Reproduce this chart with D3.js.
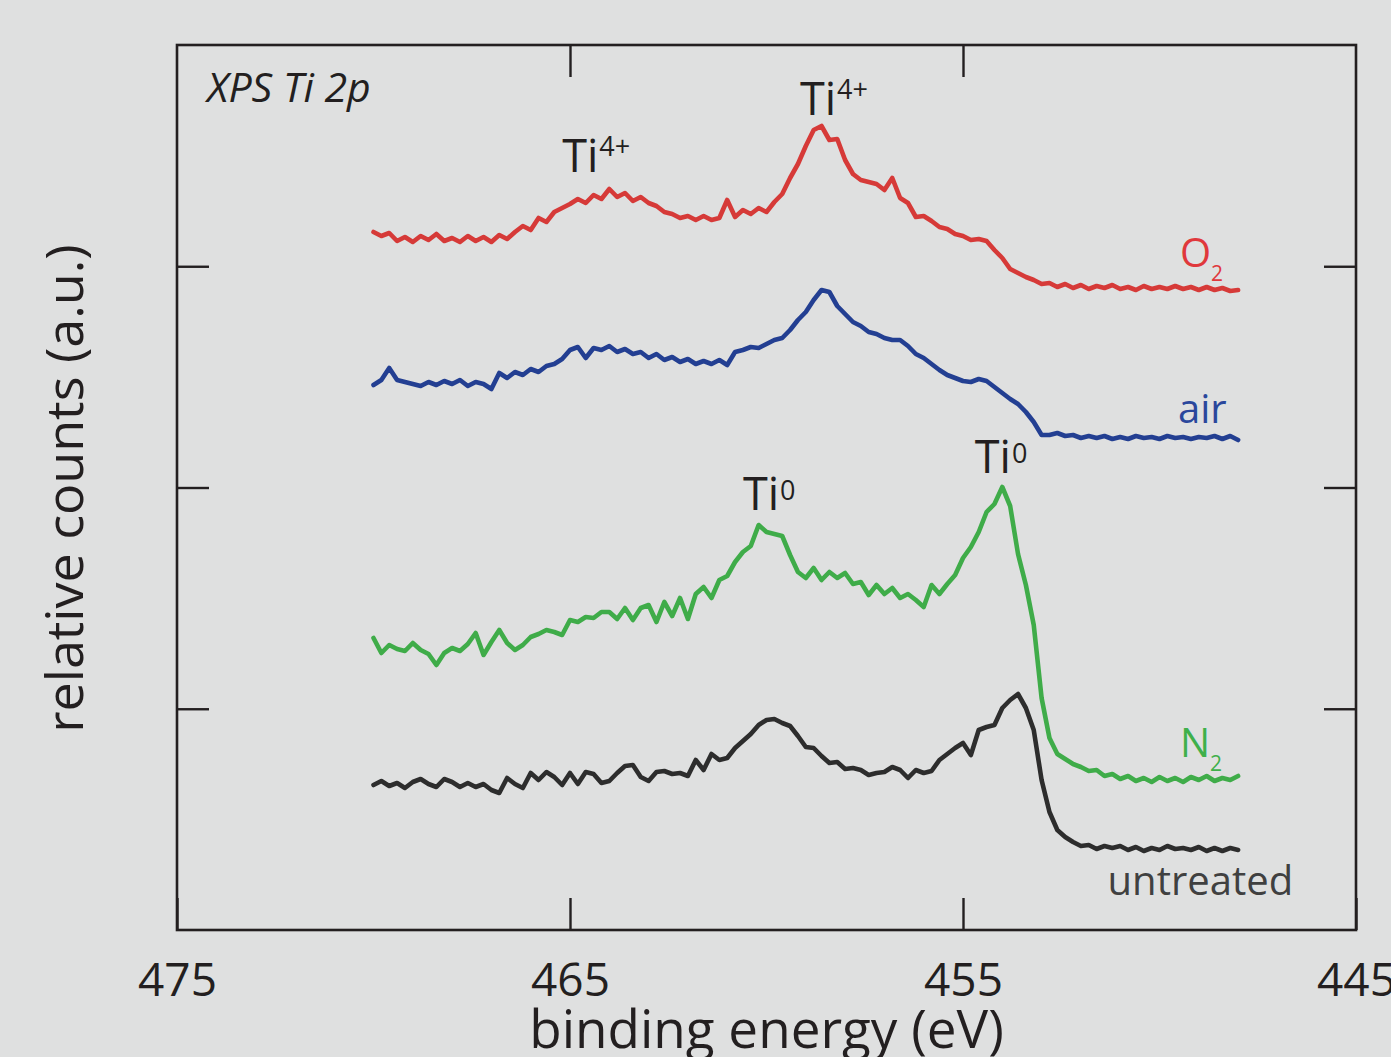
<!DOCTYPE html>
<html><head><meta charset="utf-8">
<script src="https://cdn.jsdelivr.net/npm/d3@7"></script>
<style>
body{margin:0;background:#dfe0e0;}
svg{display:block;}
text{font-family:"Open Sans","Noto Sans",sans-serif;}
</style>
</head><body>
<svg id="c" width="1391" height="1057"></svg>
<script>
// binding energy grid (eV)
const energy = [470.0,469.8,469.6,469.4,469.2,469.0,468.8,468.6,468.4,468.2,468.0,467.8,467.6,467.4,467.2,467.0,466.8,466.6,466.4,466.2,466.0,465.8,465.6,465.4,465.2,465.0,464.8,464.6,464.4,464.2,464.0,463.8,463.6,463.4,463.2,463.0,462.8,462.6,462.4,462.2,462.0,461.8,461.6,461.4,461.2,461.0,460.8,460.6,460.4,460.2,460.0,459.8,459.6,459.4,459.2,459.0,458.8,458.6,458.4,458.2,458.0,457.8,457.6,457.4,457.2,457.0,456.8,456.6,456.4,456.2,456.0,455.8,455.6,455.4,455.2,455.0,454.8,454.6,454.4,454.2,454.0,453.8,453.6,453.4,453.2,453.0,452.8,452.6,452.4,452.2,452.0,451.8,451.6,451.4,451.2,451.0,450.8,450.6,450.4,450.2,450.0,449.8,449.6,449.4,449.2,449.0,448.8,448.6,448.4,448.2,448.0];

// relative counts (a.u., offset traces)
const o2 = [698,694,697,689,693,688,694,690,696,689,692,688,694,689,693,688,695,691,698,704,700,712,708,718,722,726,731,727,735,731,741,733,737,729,733,727,724,718,716,712,714,710,714,710,712,730,713,720,716,722,718,728,736,752,766,784,800,804,790,791,770,756,750,748,746,740,752,732,727,713,714,709,703,701,696,694,690,691,689,680,672,661,657,653,650,646,647,643,646,642,645,641,644,642,645,641,643,640,644,641,643,641,644,641,643,640,643,640,642,639,640];
const air = [545,550,562,550,548,546,544,548,545,549,546,550,544,548,546,541,557,552,558,555,561,558,564,566,571,580,583,572,582,580,584,578,581,576,578,572,576,570,573,568,571,566,569,566,570,565,578,580,583,582,586,590,592,600,610,618,630,640,638,624,616,608,604,598,596,592,590,590,584,576,572,566,560,555,552,549,548,551,549,543,537,531,526,518,508,495,495,497,494,495,492,494,492,494,491,493,491,494,492,493,491,494,492,493,491,493,492,494,491,494,490];
const n2 = [292,277,285,281,279,287,280,276,265,277,282,279,286,297,275,288,300,287,280,285,293,296,300,298,295,310,308,313,312,318,318,311,322,310,322,325,308,328,314,332,311,336,343,332,350,354,368,378,384,405,398,396,394,375,358,352,362,350,358,352,357,346,348,335,345,336,342,332,336,330,323,345,336,346,355,372,383,398,418,426,443,424,376,345,305,232,192,176,171,166,163,159,160,154,156,151,154,149,152,148,153,149,152,148,153,150,154,149,152,150,154];
const untreated = [145,149,144,147,142,148,151,146,143,151,148,143,147,143,146,140,137,152,146,142,157,150,158,153,145,157,146,158,156,147,149,157,164,165,153,149,158,159,156,157,154,170,160,176,170,172,182,189,196,205,210,211,207,204,194,183,182,174,167,168,161,162,160,155,157,158,163,160,152,160,157,159,170,176,182,187,175,200,203,205,222,230,236,222,200,150,118,100,93,88,84,85,81,84,82,84,80,83,79,82,80,84,81,82,80,83,79,82,79,82,80];

const seriesNames = ["O2","air","N2","untreated"];
const seriesColors = ["#d63a38","#233f92","#3fac49","#2d2d2d"];
const labelColors = ["#e0383c","#2a479c","#3fb04b","#404040"];

const xTicks = [475,465,455,445];
const yTicks = [221.25,442.5,663.75];

// peak annotations: [main, superscript, energy, value, raise, supSize]
const peakLabels = [
  ["Ti","4+",465.2,758,16,27],
  ["Ti","4+",459.15,815,16,27],
  ["Ti","0",460.6,420,10,27],
  ["Ti","0",454.7,457,10,27]
];
// series labels: [main, subscript, energy, value]
const seriesLabels = [
  ["O","2",449.48,663],
  ["air","",449.53,507],
  ["N","2",449.48,173],
  ["untreated","",446.6,35]
];

const svg = d3.select("#c");
const L=177,R=1356,T=45,B=930;
const x = d3.scaleLinear().domain([475,445]).range([L,R]);
const y = d3.scaleLinear().domain([0,885]).range([B,T]);
const ink = "#231f20";

// frame
svg.append("rect").attr("x",L).attr("y",T).attr("width",R-L).attr("height",B-T)
  .attr("fill","none").attr("stroke",ink).attr("stroke-width",2.6);

function styleAxis(g){
  g.select(".domain").remove();
  g.selectAll(".tick line").attr("stroke",ink).attr("stroke-width",2.4);
}
svg.append("g").attr("transform",`translate(0,${B})`)
  .call(d3.axisBottom(x).tickValues(xTicks).tickSizeInner(-32).tickSizeOuter(0).tickPadding(33).tickFormat(d3.format("d")))
  .call(styleAxis)
  .call(g=>g.selectAll(".tick text").attr("font-size",46).attr("fill",ink).attr("font-family","'Open Sans',sans-serif"));
svg.append("g").attr("transform",`translate(0,${T})`)
  .call(d3.axisTop(x).tickValues(xTicks.slice(1,3)).tickSizeInner(-32).tickSizeOuter(0).tickFormat(""))
  .call(styleAxis);
svg.append("g").attr("transform",`translate(${L},0)`)
  .call(d3.axisLeft(y).tickValues(yTicks).tickSizeInner(-32).tickSizeOuter(0).tickFormat(""))
  .call(styleAxis);
svg.append("g").attr("transform",`translate(${R},0)`)
  .call(d3.axisRight(y).tickValues(yTicks).tickSizeInner(-32).tickSizeOuter(0).tickFormat(""))
  .call(styleAxis);

// traces
const line = d3.line().x((d,i)=>x(energy[i])).y(d=>y(d)).curve(d3.curveLinear);
[o2,air,n2,untreated].forEach((s,k)=>{
  svg.append("path").datum(s).attr("d",line).attr("fill","none")
    .attr("stroke",seriesColors[k]).attr("stroke-width",4.6)
    .attr("stroke-linejoin","round").attr("stroke-linecap","round");
});

// axis titles
svg.append("text").attr("x",(L+R)/2).attr("y",1048).attr("text-anchor","middle")
  .attr("font-size",53).attr("fill",ink).text("binding energy (eV)");
svg.append("text").attr("transform",`translate(83,${(T+B)/2+1}) rotate(-90)`).attr("text-anchor","middle")
  .attr("font-size",52).attr("fill",ink).text("relative counts (a.u.)");

// panel title
svg.append("text").attr("x",207).attr("y",102).attr("font-size",41).attr("font-style","italic")
  .attr("fill",ink).text("XPS Ti 2p");

// peak labels
peakLabels.forEach(p=>{
  const t = svg.append("text").attr("x",x(p[2])).attr("y",y(p[3])).attr("fill",ink).attr("font-size",45);
  t.append("tspan").text(p[0]);
  t.append("tspan").attr("dx",1).attr("dy",-p[4]).attr("font-size",p[5]).text(p[1]);
});

// series labels
seriesLabels.forEach((s,k)=>{
  const t = svg.append("text").attr("x",x(s[2])).attr("y",y(s[3])).attr("fill",labelColors[k]).attr("font-size",40)
    .attr("text-anchor", s[0]==="untreated" ? "end" : "start");
  t.append("tspan").text(s[0]);
  if(s[1]) t.append("tspan").attr("dy",14).attr("font-size",21).text(s[1]);
});
</script>
</body></html>
